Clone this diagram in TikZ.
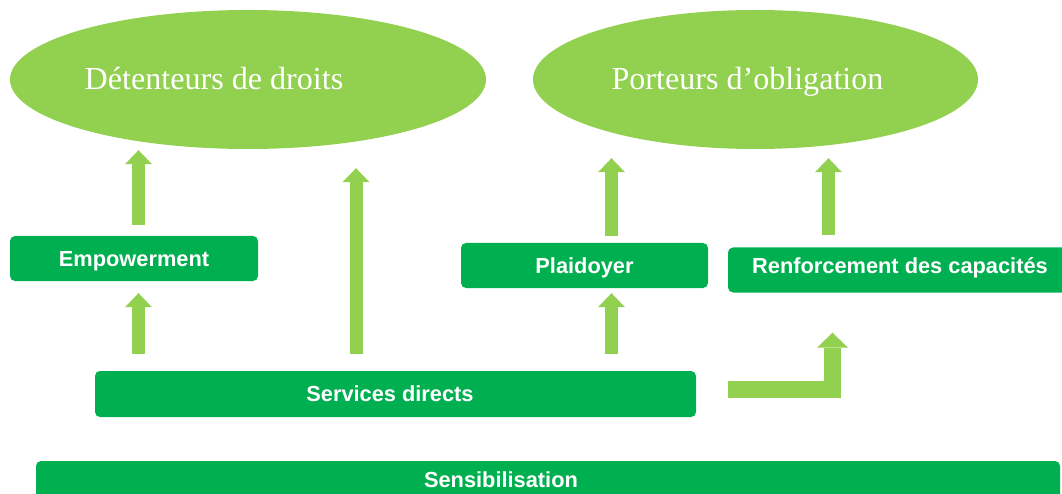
\documentclass[tikz,border=0pt]{standalone}
\usepackage{fontspec}
\setmainfont{Liberation Serif}
\setsansfont{Liberation Sans}
\usetikzlibrary{shapes.geometric,arrows.meta}
\definecolor{lightgreen}{HTML}{92D050}
\definecolor{darkgreen}{HTML}{00B050}
\begin{document}
\begin{tikzpicture}[x=1pt,y=-1pt,
		oval/.style={ellipse,fill=lightgreen,inner sep=0,minimum height=139},
		ovaltext/.style={text=white,inner sep=0,text height=21pt,text depth=0pt,font=\fontsize{32.1}{38}\selectfont},
		box/.style={rectangle,rounded corners=5pt,fill=darkgreen,inner sep=0,minimum height=45},
		boxtext/.style={text=white,inner sep=0,text height=15.6pt,text depth=0pt,font=\sffamily\bfseries\fontsize{21.8}{26}\selectfont},
		flow/.style={draw=lightgreen,line width=13pt,-{Triangle[width=27pt,length=14pt,line width=0pt]}}]
		\useasboundingbox (0,0) rectangle (1062,494);
		\node[oval,minimum width=476] (rh) at (248,79.5) {};
		\node[ovaltext,xshift=-34pt] at (rh.center) {Détenteurs de droits};
		\node[oval,minimum width=445] (ob) at (755.5,79.5) {};
		\node[ovaltext,xshift=-8pt] at (ob.center) {Porteurs d’obligation};
		\node[box,boxtext,minimum width=248] (emp) at (134,258.5) {Empowerment};
		\node[box,boxtext,minimum width=247] (pl) at (584.5,265.5) {Plaidoyer};
		\node[box,minimum width=344] (rc) at (900,270) {};
		\node[boxtext,yshift=4.5pt] at (rc.center) {Renforcement des capacités};
		\node[box,minimum width=601,minimum height=46] (sd) at (395.5,394) {};
		\node[boxtext,xshift=-5.5pt] at (sd.center) {Services directs};
		\node[box,minimum width=1024] (sens) at (548,483.5) {};
		\node[boxtext,xshift=-47pt,yshift=4pt] at (sens.center) {Sensibilisation};
		\coordinate (c1) at (138.5,0);
		\coordinate (c2) at (356,0);
		\coordinate (c3) at (611.5,0);
		\coordinate (c4) at (828.5,0);
		\coordinate (c5) at (832.5,389);
		\draw[flow,shorten <=11pt,shorten >=1pt] (c1 |- emp.north) -- (c1 |- rh.south);
		\draw[flow,shorten <=17pt,shorten >=12pt] (c1 |- sd.north) -- (c1 |- emp.south);
		\draw[flow,shorten <=17pt,shorten >=19pt] (c2 |- sd.north) -- (c2 |- rh.south);
		\draw[flow,shorten <=17pt,shorten >=5pt] (c3 |- sd.north) -- (c3 |- pl.south);
		\draw[flow,shorten <=7pt,shorten >=9pt] (c3 |- pl.north) -- (c3 |- ob.south);
		\draw[flow,shorten <=12pt,shorten >=9pt] (c4 |- rc.north) -- (c4 |- ob.south);
		\draw[flow,line width=17pt,line join=miter,-{Triangle[width=31pt,length=15pt,line width=0pt]},shorten <=32pt,shorten >=40pt] (sd.east |- c5) -- (c5) -- (c5 |- rc.south);
	\end{tikzpicture}
\end{document}
